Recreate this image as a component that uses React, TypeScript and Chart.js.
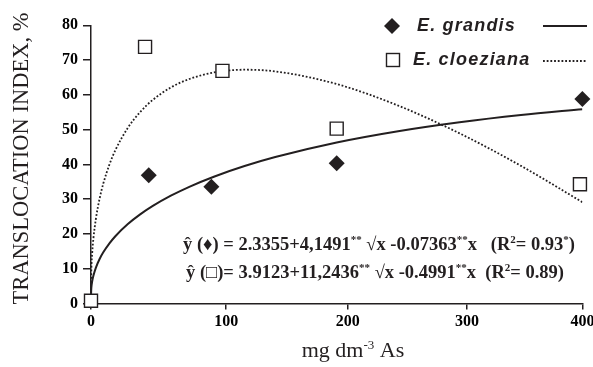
import React, { useEffect, useRef } from 'react';
import { Chart, registerables } from 'chart.js';

Chart.register(...registerables);

const INK = '#231f20';
const SERIF = '"Liberation Serif", "Times New Roman", serif';
const SANS = '"Liberation Sans", Arial, sans-serif';

// Observed values (dose, mg dm-3 As  /  translocation index, %)
const grandisDose = [47, 98, 200, 400];
const grandisIndex = [36.9, 33.6, 40.3, 58.8];
const cloezianaDose = [0, 44, 107, 200, 398];
const cloezianaIndex = [0.8, 73.8, 66.9, 50.3, 34.3];

// Fitted curves
const fitDose = [0, 0.25, 1, 2, 4, 7, 10, 15, 20, 30, 40, 50, 65, 80, 100, 125, 150, 200, 250, 300, 350, 400];
const grandisFit = [2.34, 4.39, 6.41, 8.06, 10.34, 12.8, 14.72, 17.3, 19.42, 22.85, 25.63, 27.99, 31.0, 33.56, 36.46, 39.52, 42.11, 46.29, 49.53, 52.11, 54.19, 55.87];
const cloezianaFit = [3.91, 9.41, 14.66, 18.82, 24.4, 30.17, 34.48, 39.97, 44.21, 50.52, 55.06, 58.46, 62.12, 64.55, 66.44, 67.23, 66.75, 63.1, 56.92, 48.93, 39.58, 29.14];

// Axis ticks (positions as drawn in the figure)
const xTickValues = [0, 110, 209, 306, 400];
const xTickLabels = ['0', '100', '200', '300', '400'];
const yMin = 0;
const yMax = 80;
const yStep = 10;

const legendNames = ['E. grandis', 'E. cloeziana'];
const yTitle = 'TRANSLOCATION INDEX, %';
type Part = { t: string; sup?: boolean };
const xTitleParts: Part[] = [{ t: 'mg dm' }, { t: '-3', sup: true }, { t: ' As' }];
const equationGrandis: Part[] = [
  { t: 'ŷ (♦) = 2.3355+4,1491' }, { t: '**', sup: true }, { t: ' √x -0.07363' }, { t: '**', sup: true },
  { t: 'x   (R' }, { t: '2', sup: true }, { t: '= 0.93' }, { t: '*', sup: true }, { t: ')' },
];
const equationCloeziana: Part[] = [
  { t: 'ŷ (□)= 3.9123+11,2436' }, { t: '**', sup: true }, { t: ' √x -0.4991' }, { t: '**', sup: true },
  { t: 'x  (R' }, { t: '2', sup: true }, { t: '= 0.89)' },
];

function richWidth(ctx: CanvasRenderingContext2D, parts: Part[], font: (sup: boolean) => string) {
  let w = 0;
  for (const p of parts) {
    ctx.font = font(!!p.sup);
    w += ctx.measureText(p.t).width;
  }
  return w;
}

function drawRich(ctx: CanvasRenderingContext2D, parts: Part[], x: number, y: number, font: (sup: boolean) => string, rise: number) {
  let cx = x;
  for (const p of parts) {
    ctx.font = font(!!p.sup);
    ctx.fillText(p.t, cx, p.sup ? y - rise : y);
    cx += ctx.measureText(p.t).width;
  }
}

const annotations = {
  id: 'annotations',
  afterDraw(chart: any) {
    const ctx: CanvasRenderingContext2D = chart.ctx;
    ctx.save();
    ctx.fillStyle = INK;
    ctx.strokeStyle = INK;
    ctx.textBaseline = 'alphabetic';
    ctx.textAlign = 'left';

    // Y title
    ctx.save();
    ctx.translate(28, 158.5);
    ctx.rotate(-Math.PI / 2);
    ctx.textAlign = 'center';
    ctx.font = `normal 22.5px ${SERIF}`;
    ctx.fillText(yTitle, 0, 0);
    ctx.restore();

    // X title
    const xf = (sup: boolean) => (sup ? `normal 13px ${SERIF}` : `normal 22px ${SERIF}`);
    const xw = richWidth(ctx, xTitleParts, xf);
    drawRich(ctx, xTitleParts, 353 - xw / 2, 356.7, xf, 8);

    // Equations
    const ef = (sup: boolean) => (sup ? `bold 11px ${SERIF}` : `bold 18.5px ${SERIF}`);
    drawRich(ctx, equationGrandis, 183, 250, ef, 7);
    drawRich(ctx, equationCloeziana, 186, 278.3, ef, 7);

    // Legend
    ctx.textBaseline = 'middle';
    ctx.font = `italic bold 18px ${SANS}`;
    (ctx as any).letterSpacing = '1.2px';
    ctx.fillText(legendNames[0], 417, 26);
    ctx.fillText(legendNames[1], 413, 60);
    (ctx as any).letterSpacing = '0px';

    // legend markers
    const mx = 392;
    ctx.beginPath();
    ctx.moveTo(mx, 26 - 8);
    ctx.lineTo(mx + 8, 26);
    ctx.lineTo(mx, 26 + 8);
    ctx.lineTo(mx - 8, 26);
    ctx.closePath();
    ctx.fill();

    ctx.lineWidth = 1.4;
    ctx.fillStyle = '#fff';
    ctx.fillRect(mx + 1 - 6.5, 60 - 6.5, 13, 13);
    ctx.strokeRect(mx + 1 - 6.5, 60 - 6.5, 13, 13);

    // legend line samples
    ctx.lineWidth = 2;
    ctx.beginPath();
    ctx.moveTo(543, 26);
    ctx.lineTo(587, 26);
    ctx.stroke();
    ctx.lineWidth = 1.8;
    ctx.setLineDash([1.8, 1.9]);
    ctx.beginPath();
    ctx.moveTo(543, 61);
    ctx.lineTo(587, 61);
    ctx.stroke();
    ctx.restore();
  },
};

export default function App() {
  const canvasRef = useRef<HTMLCanvasElement | null>(null);

  useEffect(() => {
    const canvas = canvasRef.current;
    if (!canvas) return;
    const tickFont = { family: SERIF, size: 16, weight: 'bold' as const };
    const chart = new Chart(canvas, {
      type: 'scatter',
      data: {
        datasets: [
          {
            label: legendNames[0],
            data: grandisDose.map((x, i) => ({ x, y: grandisIndex[i] })),
            pointStyle: 'rectRot',
            pointRadius: 8,
            backgroundColor: INK,
            borderColor: INK,
            borderWidth: 0,
            clip: false,
            order: 0,
          },
          {
            label: legendNames[1],
            data: cloezianaDose.map((x, i) => ({ x, y: cloezianaIndex[i] })),
            pointStyle: 'rect',
            pointRadius: 9.2,
            backgroundColor: '#ffffff',
            borderColor: INK,
            borderWidth: 1.4,
            clip: false,
            order: 0,
          },
          {
            label: legendNames[0] + ' fit',
            data: fitDose.map((x, i) => ({ x, y: grandisFit[i] })),
            showLine: true,
            pointRadius: 0,
            borderColor: INK,
            borderWidth: 2,
            cubicInterpolationMode: 'monotone',
            fill: false,
            order: 1,
          },
          {
            label: legendNames[1] + ' fit',
            data: fitDose.map((x, i) => ({ x, y: cloezianaFit[i] })),
            showLine: true,
            pointRadius: 0,
            borderColor: INK,
            borderWidth: 1.8,
            borderDash: [1.8, 1.9],
            cubicInterpolationMode: 'monotone',
            fill: false,
            order: 1,
          },
        ],
      },
      options: {
        animation: false,
        responsive: false,
        events: [],
        layout: { padding: { top: 25.3, right: 9, left: 0, bottom: 0 } },
        plugins: { legend: { display: false }, tooltip: { enabled: false } },
        scales: {
          x: {
            type: 'linear',
            position: 'bottom',
            min: 0,
            max: 400,
            z: 1,
            border: { display: true, color: INK, width: 1.5 },
            grid: { display: true, drawOnChartArea: false, drawTicks: true, tickLength: 6, color: INK, lineWidth: 1.5 },
            ticks: {
              font: tickFont,
              color: '#000',
              padding: 3,
              maxRotation: 0,
              autoSkip: false,
              callback: (_v: any, i: number) => xTickLabels[i],
            },
            afterBuildTicks: (s: any) => {
              s.ticks = xTickValues.map((v) => ({ value: v }));
            },
            afterFit: (s: any) => {
              s.height = 63.5;
              s.paddingLeft = 0;
              s.paddingRight = 0;
            },
          },
          y: {
            type: 'linear',
            min: yMin,
            max: yMax,
            z: 1,
            border: { display: true, color: INK, width: 1.5 },
            grid: { display: true, drawOnChartArea: false, drawTicks: true, tickLength: 8, color: INK, lineWidth: 1.5 },
            ticks: { stepSize: yStep, font: tickFont, color: '#000', padding: 5 },
            afterFit: (s: any) => {
              s.width = 91;
              s.paddingTop = 0;
              s.paddingBottom = 0;
            },
          },
        },
      },
      plugins: [annotations],
    } as any);
    return () => chart.destroy();
  }, []);

  return (
    <div style={{ position: 'fixed', left: 0, top: 0, width: 593, height: 367, background: '#fff' }}>
      <canvas ref={canvasRef} width={593} height={367} style={{ display: 'block' }} />
    </div>
  );
}
